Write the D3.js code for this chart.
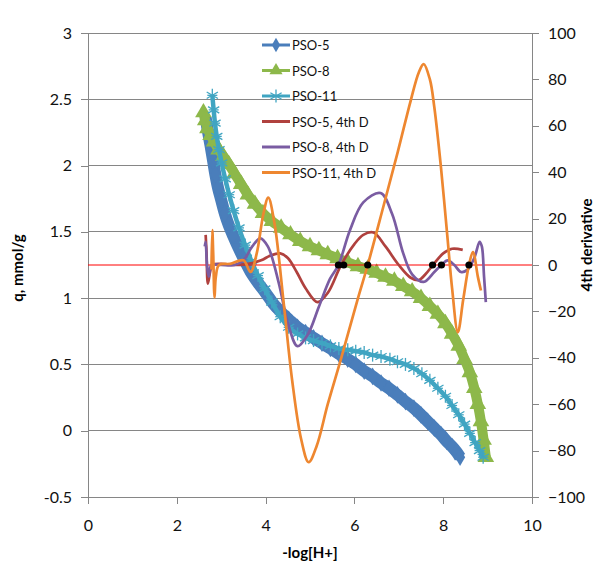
<!DOCTYPE html>
<html><head><meta charset="utf-8">
<script src="https://cdn.jsdelivr.net/npm/d3@7"></script>
<style>
body{margin:0;background:#fff;}
text{font-family:Lato,"Open Sans",sans-serif;}
</style></head>
<body><svg id="c" width="613" height="578"></svg>
<script>
// ---------- data ----------
const xTicks = [0,2,4,6,8,10];
const qTicks = [-0.5,0,0.5,1,1.5,2,2.5,3];
const dTicks = [-100,-80,-60,-40,-20,0,20,40,60,80,100];

const pso5X = [2.65,2.70,2.76,2.82,2.87,2.93,3.00,3.08,3.17,3.27,3.39,3.52,3.66,3.82,4.00,4.17,4.33,4.52,4.72,4.90,5.08,5.27,5.46,5.65,5.85,6.03,6.22,6.41,6.60,6.78,6.97,7.15,7.34,7.50,7.65,7.80,7.95,8.08,8.20,8.30,8.38];
const pso5Q = [2.36,2.26,2.15,2.03,1.93,1.83,1.74,1.64,1.55,1.47,1.38,1.29,1.20,1.12,1.04,0.96,0.90,0.84,0.78,0.74,0.70,0.66,0.62,0.58,0.54,0.50,0.45,0.41,0.36,0.32,0.27,0.22,0.17,0.12,0.07,0.02,-0.03,-0.08,-0.12,-0.16,-0.20];

const pso8X = [2.60,2.64,2.69,2.76,2.84,2.94,3.05,3.17,3.30,3.45,3.60,3.76,3.94,4.14,4.35,4.56,4.78,5.00,5.20,5.40,5.62,5.85,6.08,6.30,6.50,6.70,6.90,7.10,7.30,7.50,7.70,7.88,8.05,8.20,8.35,8.48,8.60,8.70,8.78,8.85,8.91,8.96];
const pso8Q = [2.40,2.34,2.28,2.23,2.18,2.12,2.07,2.01,1.94,1.86,1.78,1.71,1.64,1.58,1.53,1.48,1.43,1.39,1.36,1.33,1.30,1.27,1.24,1.22,1.19,1.16,1.13,1.09,1.05,1.00,0.94,0.88,0.81,0.73,0.64,0.54,0.44,0.32,0.20,0.07,-0.07,-0.20];

const pso11X = [2.80,2.83,2.86,2.90,2.95,3.01,3.09,3.18,3.28,3.40,3.54,3.68,3.83,3.98,4.14,4.33,4.52,4.72,4.90,5.08,5.27,5.46,5.65,5.85,6.03,6.22,6.41,6.60,6.80,6.97,7.15,7.34,7.52,7.70,7.88,8.05,8.20,8.35,8.48,8.60,8.72,8.82,8.90];
const pso11Q = [2.53,2.42,2.32,2.22,2.12,2.02,1.90,1.78,1.66,1.53,1.40,1.28,1.17,1.07,0.97,0.86,0.78,0.73,0.70,0.68,0.66,0.64,0.62,0.61,0.60,0.59,0.57,0.56,0.54,0.52,0.50,0.47,0.43,0.38,0.32,0.26,0.19,0.12,0.05,-0.02,-0.09,-0.15,-0.20];

const d5X = [2.65,2.67,2.70,2.75,2.80,3.00,3.30,3.60,3.90,4.10,4.33,4.50,4.70,4.90,5.17,5.40,5.70,6.00,6.20,6.43,6.70,7.00,7.27,7.45,7.60,7.77,8.00,8.20,8.44];
const d5Y = [13,5,-8,-3,0,0.5,0,0.5,2,4,5,3,-3,-10,-16,-12,0,9,13,14,8,0,-5.5,-6.5,-4,0,5,7,6.5];

const d8X = [2.63,2.65,2.68,2.72,2.78,3.00,3.30,3.50,3.70,3.88,4.05,4.30,4.50,4.72,4.95,5.20,5.45,5.64,5.90,6.20,6.59,6.85,7.10,7.30,7.56,7.80,7.96,8.10,8.25,8.40,8.55,8.70,8.82,8.87,8.92,8.96];
const d8Y = [8,10,0,-5,0,0,0,2,8,11.5,8,-8,-25,-35,-30,-18,-6,0,15,27,31,22,5,-4,-7.3,-3,0,2,0,-3,-2,3,10,8,-5,-16];

const d11X = [2.78,2.80,2.82,2.85,2.88,2.95,3.20,3.50,3.66,3.80,3.95,4.06,4.20,4.40,4.60,4.80,4.97,5.15,5.40,5.69,6.07,6.30,6.65,6.98,7.27,7.45,7.56,7.70,7.80,7.95,8.10,8.20,8.33,8.45,8.58,8.67,8.78,8.85];
const d11Y = [-2,15,5,-14,-5,0,0.5,2,-3,5,22,29,18,-15,-50,-75,-85,-78,-60,-41,-15,0,25,49,71,83,86.6,80,68,42,11,-10,-29,-15,0,5.6,-5,-11];

const zeroX = [0,10];
const zeroY = [0,0];
const rootX = [5.64,5.76,6.30,7.76,7.96,8.58];

const legendNames = ["PSO-5","PSO-8","PSO-11","PSO-5, 4th D","PSO-8, 4th D","PSO-11, 4th D"];

// ---------- layout ----------
const L=88,R=532,T=33,B=497;
const svg=d3.select("#c");
const x=d3.scaleLinear().domain([0,10]).range([L,R]);
const yq=d3.scaleLinear().domain([-0.5,3]).range([B,T]);
const yd=d3.scaleLinear().domain([-100,100]).range([B,T]);
const grey="#868686";

// gridlines
svg.append("g").selectAll("line").data(qTicks.filter(v=>v>-0.5)).join("line")
  .attr("x1",L).attr("x2",R).attr("y1",d=>yq(d)).attr("y2",d=>yq(d))
  .attr("stroke",grey).attr("stroke-width",1).attr("shape-rendering","crispEdges");

// axes
const ax=svg.append("g").attr("transform",`translate(0,${B})`)
  .call(d3.axisBottom(x).tickValues(xTicks).tickSize(7).tickPadding(16).tickFormat(d3.format("d")));
const ayl=svg.append("g").attr("transform",`translate(${L},0)`)
  .call(d3.axisLeft(yq).tickValues(qTicks).tickSize(7).tickPadding(9).tickFormat(d=>String(d)));
const ayr=svg.append("g").attr("transform",`translate(${R},0)`)
  .call(d3.axisRight(yd).tickValues(dTicks).tickSize(7).tickPadding(9).tickFormat(d3.format("d")));
[ax,ayl,ayr].forEach(g=>{
  g.select(".domain").attr("stroke",grey).attr("shape-rendering","crispEdges");
  g.selectAll(".tick line").attr("stroke",grey).attr("shape-rendering","crispEdges");
  g.selectAll(".tick text").attr("font-size",16).attr("fill","#111").style("font-family","Lato,'Open Sans',sans-serif");
});
ax.select(".domain").attr("d",`M${L},0H${R}`);

// titles
svg.append("text").attr("x",(L+R)/2).attr("y",558).attr("text-anchor","middle")
  .attr("font-size",15).attr("font-weight","bold").text("-log[H+]");
svg.append("text").attr("transform",`translate(23,${(T+B)/2+3}) rotate(-90)`).attr("text-anchor","middle")
  .attr("font-size",15).attr("font-weight","bold").text("q, mmol/g");
svg.append("text").attr("transform",`translate(592,${(T+B)/2-20}) rotate(-90)`).attr("text-anchor","middle")
  .attr("font-size",15).attr("font-weight","bold").text("4th derivative");

// marker shapes
const diamond=d3.symbol().type(d3.symbolDiamond).size(90);
const tri=d3.symbol().type(d3.symbolTriangle).size(120);
function star(g,cx,cy,c){
  const r=6.5;
  for(const a of [0,60,120]){
    const rad=a*Math.PI/180;
    g.append("line").attr("x1",cx-r*Math.sin(rad)).attr("y1",cy-r*Math.cos(rad))
     .attr("x2",cx+r*Math.sin(rad)).attr("y2",cy+r*Math.cos(rad)).attr("stroke",c).attr("stroke-width",1.3);
  }
  g.append("line").attr("x1",cx-5).attr("x2",cx+5).attr("y1",cy).attr("y2",cy).attr("stroke",c).attr("stroke-width",1.3);
}

const lineQ=d3.line().x(d=>x(d[0])).y(d=>yq(d[1])).curve(d3.curveCatmullRom.alpha(0.5));
const lineD=d3.line().x(d=>x(d[0])).y(d=>yd(d[1])).curve(d3.curveCatmullRom.alpha(0.5));
const zip=(a,b)=>a.map((v,i)=>[v,b[i]]);

const cBlue="#4A7EBB", cGreen="#8DB84A", cCyan="#40A5C2";
const cRed="#B0413E", cPurple="#7A5CA2", cOrange="#EE8730";

// PSO-5
const p5=zip(pso5X,pso5Q);
svg.append("path").attr("d",lineQ(p5)).attr("fill","none").attr("stroke",cBlue).attr("stroke-width",12).attr("stroke-linecap","butt");
svg.append("g").selectAll("path").data(p5).join("path").attr("d",diamond)
  .attr("transform",d=>`translate(${x(d[0])},${yq(d[1])})`).attr("fill",cBlue);
// PSO-8
const p8=zip(pso8X,pso8Q);
svg.append("path").attr("d",lineQ(p8)).attr("fill","none").attr("stroke",cGreen).attr("stroke-width",10);
svg.append("g").selectAll("path").data(p8).join("path").attr("d",tri)
  .attr("transform",d=>`translate(${x(d[0])},${yq(d[1])})`).attr("fill",cGreen);
// PSO-11
const p11=zip(pso11X,pso11Q);
svg.append("path").attr("d",lineQ(p11)).attr("fill","none").attr("stroke",cCyan).attr("stroke-width",4.5);
const sg=svg.append("g");
p11.forEach(d=>star(sg,x(d[0]),yq(d[1]),cCyan));

// zero line
svg.append("path").attr("d",d3.line().x(d=>x(d[0])).y(d=>yd(d[1]))(zip(zeroX,zeroY)))
  .attr("stroke","#FF0000").attr("stroke-width",1).attr("fill","none");

// derivatives
[[d5X,d5Y,cRed],[d8X,d8Y,cPurple],[d11X,d11Y,cOrange]].forEach(([a,b,c])=>{
  svg.append("path").attr("d",lineD(zip(a,b))).attr("fill","none").attr("stroke",c)
    .attr("stroke-width",2.7).attr("stroke-linejoin","round");
});

// roots
svg.append("g").selectAll("circle").data(rootX).join("circle")
  .attr("cx",d=>x(d)).attr("cy",yd(0)).attr("r",3.6).attr("fill","#000");

// legend
const lg=svg.append("g");
const lcol=[cBlue,cGreen,cCyan,cRed,cPurple,cOrange];
legendNames.forEach((n,i)=>{
  const yy=45+i*25.5;
  lg.append("line").attr("x1",262).attr("x2",290).attr("y1",yy).attr("y2",yy)
    .attr("stroke",lcol[i]).attr("stroke-width",3);
  if(i===0) lg.append("path").attr("d",d3.symbol().type(d3.symbolDiamond).size(60)).attr("transform",`translate(276,${yy})`).attr("fill",cBlue);
  if(i===1) lg.append("path").attr("d",d3.symbol().type(d3.symbolTriangle).size(75)).attr("transform",`translate(276,${yy})`).attr("fill",cGreen);
  if(i===2) star(lg,276,yy,cCyan);
  lg.append("text").attr("x",292).attr("y",yy+5).attr("font-size",13).attr("fill","#111").text(n);
});
</script></body></html>
